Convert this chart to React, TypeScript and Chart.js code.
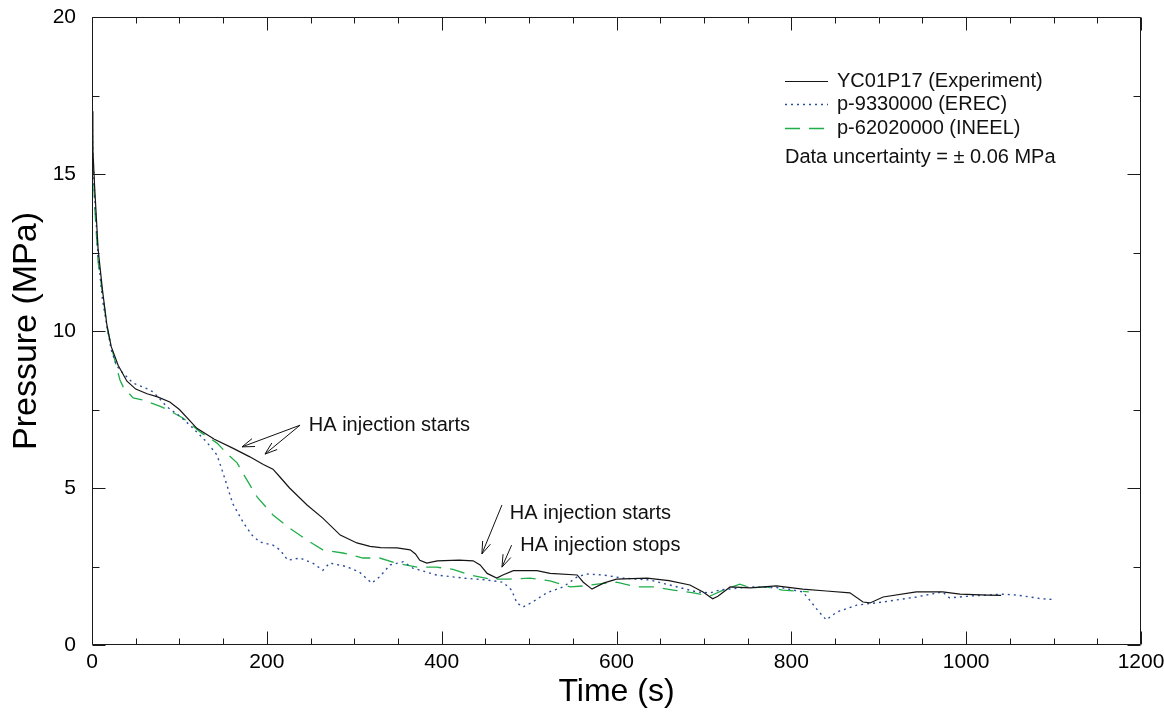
import React, { useEffect, useRef } from 'react';
import { Chart, registerables } from 'chart.js';

Chart.register(...registerables);

// ---------- data ----------
const expTime = [0, 1, 3, 7, 12, 17, 22, 30, 40, 50, 63, 75, 89, 100, 120, 140, 161, 180, 196, 207, 215, 226, 246, 264, 284, 303, 318, 330, 349, 364, 370, 375, 383, 395, 420, 436, 444, 452, 463, 470, 482, 509, 524, 555, 562, 572, 585, 600, 635, 660, 684, 699, 710, 716, 730, 753, 783, 813, 840, 867, 882, 890, 905, 943, 973, 993, 1025, 1040];
const expPressure = [17.0, 15.8, 14.6, 12.6, 11.3, 10.2, 9.5, 8.9, 8.4, 8.15, 8.0, 7.9, 7.74, 7.5, 6.9, 6.55, 6.27, 6.0, 5.75, 5.6, 5.35, 5.0, 4.46, 4.04, 3.5, 3.25, 3.14, 3.1, 3.09, 3.03, 2.9, 2.7, 2.61, 2.68, 2.7, 2.68, 2.55, 2.28, 2.13, 2.23, 2.37, 2.37, 2.28, 2.23, 2.0, 1.78, 1.97, 2.1, 2.13, 2.05, 1.91, 1.69, 1.47, 1.55, 1.85, 1.82, 1.88, 1.78, 1.72, 1.66, 1.37, 1.34, 1.53, 1.69, 1.69, 1.62, 1.59, 1.58];

const erecTime = [0, 1, 3, 7, 12, 18, 22, 28, 34, 47, 60, 70, 86, 100, 112, 131, 143, 150, 161, 173, 183, 192, 207, 215, 224, 238, 253, 264, 272, 291, 306, 320, 329, 341, 356, 367, 394, 425, 452, 470, 480, 486, 493, 504, 520, 539, 555, 566, 585, 607, 638, 661, 692, 707, 718, 753, 790, 813, 821, 830, 840, 852, 875, 905, 943, 973, 981, 1004, 1042, 1058, 1087, 1100];
const erecPressure = [17.0, 15.6, 14.3, 12.4, 11.0, 10.0, 9.4, 8.9, 8.7, 8.34, 8.2, 8.06, 7.58, 7.3, 7.0, 6.47, 6.05, 5.47, 4.5, 3.9, 3.5, 3.28, 3.18, 3.03, 2.7, 2.77, 2.6, 2.38, 2.61, 2.5, 2.32, 1.97, 2.17, 2.55, 2.65, 2.45, 2.23, 2.13, 2.07, 2.0, 1.75, 1.34, 1.21, 1.37, 1.66, 1.85, 2.17, 2.26, 2.23, 2.13, 2.07, 1.91, 1.69, 1.66, 1.75, 1.85, 1.82, 1.69, 1.43, 1.11, 0.8, 1.05, 1.27, 1.37, 1.53, 1.69, 1.5, 1.56, 1.62, 1.59, 1.47, 1.45];

const ineelTime = [0, 1, 3, 7, 13, 18, 23, 32, 36, 47, 58, 78, 86, 104, 124, 143, 158, 166, 173, 189, 207, 226, 246, 264, 287, 310, 329, 349, 372, 394, 413, 432, 455, 478, 501, 524, 547, 562, 578, 600, 623, 642, 665, 688, 707, 722, 741, 753, 772, 790, 806, 820];
const ineelPressure = [17.0, 15.4, 14.0, 12.2, 11.0, 10.0, 9.4, 8.44, 8.2, 7.87, 7.8, 7.6, 7.5, 7.23, 6.78, 6.43, 6.0, 5.8, 5.45, 4.71, 4.14, 3.72, 3.34, 3.03, 2.93, 2.77, 2.77, 2.6, 2.48, 2.48, 2.41, 2.23, 2.1, 2.1, 2.13, 2.04, 1.85, 1.88, 1.94, 2.0, 1.85, 1.85, 1.75, 1.66, 1.56, 1.75, 1.94, 1.82, 1.85, 1.75, 1.72, 1.69];

const seriesLabels = ['YC01P17 (Experiment)', 'p-9330000 (EREC)', 'p-62020000 (INEEL)'];
const uncertaintyNote = 'Data uncertainty = \u00B1 0.06 MPa';

// annotations in data coordinates (time, pressure)
const annotationTexts = ['HA injection starts', 'HA injection starts', 'HA injection stops'];
const annotationAnchors = [[248, 7.0], [478, 4.2], [490, 3.18]];
const annotationArrows = [
  [[238, 7.0], [171.6, 6.31]],
  [[238, 7.0], [197.9, 6.08]],
  [[469, 4.46], [446, 2.9]],
  [[480, 3.18], [469, 2.48]],
];

const FONT = "'Liberation Sans', Arial, Helvetica, sans-serif";

const toXY = (xs: number[], ys: number[]) => xs.map((x, i) => ({ x, y: ys[i] }));

const frameTicksPlugin = {
  id: 'frameTicks',
  afterDatasetsDraw(chart: any) {
    const { ctx, chartArea: a, scales } = chart;
    const xs = scales.x;
    const ys = scales.y;
    ctx.save();
    ctx.strokeStyle = '#1a1a1a';
    ctx.lineWidth = 1;
    const L = Math.round(a.left) + 0.5;
    const R = Math.round(a.right) - 0.5;
    const T = Math.round(a.top) + 0.5;
    const B = Math.round(a.bottom) - 0.5;
    ctx.beginPath();
    ctx.rect(L, T, R - L, B - T);
    ctx.stroke();
    ctx.beginPath();
    for (let v = 0; v <= 1200; v += 50) {
      const px = Math.round(xs.getPixelForValue(v)) + 0.5;
      const len = v % 200 === 0 ? 13 : 6;
      ctx.moveTo(px, B);
      ctx.lineTo(px, B - len);
      ctx.moveTo(px, T);
      ctx.lineTo(px, T + len);
    }
    for (let v = 0; v <= 20; v += 2.5) {
      const py = Math.round(ys.getPixelForValue(v)) + 0.5;
      const len = v % 5 === 0 ? 13 : 7;
      ctx.moveTo(L, py);
      ctx.lineTo(L + len, py);
      ctx.moveTo(R, py);
      ctx.lineTo(R - len, py);
    }
    ctx.stroke();
    ctx.restore();
  },
};

const annotationPlugin = {
  id: 'haNotes',
  afterDatasetsDraw(chart: any) {
    const { ctx, scales } = chart;
    const xs = scales.x;
    const ys = scales.y;
    ctx.save();
    ctx.fillStyle = '#111';
    ctx.font = `20px ${FONT}`;
    ctx.textAlign = 'left';
    ctx.textBaseline = 'middle';
    annotationTexts.forEach((t, i) => {
      const [ax, ay] = annotationAnchors[i];
      ctx.fillText(t, xs.getPixelForValue(ax), ys.getPixelForValue(ay));
    });
    ctx.strokeStyle = '#111';
    ctx.lineWidth = 1;
    annotationArrows.forEach(([from, to]) => {
      const x1 = xs.getPixelForValue(from[0]);
      const y1 = ys.getPixelForValue(from[1]);
      const x2 = xs.getPixelForValue(to[0]);
      const y2 = ys.getPixelForValue(to[1]);
      const ang = Math.atan2(y1 - y2, x1 - x2);
      const head = 13;
      const spread = 0.33;
      ctx.beginPath();
      ctx.moveTo(x1, y1);
      ctx.lineTo(x2, y2);
      ctx.moveTo(x2 + head * Math.cos(ang + spread), y2 + head * Math.sin(ang + spread));
      ctx.lineTo(x2, y2);
      ctx.lineTo(x2 + head * Math.cos(ang - spread), y2 + head * Math.sin(ang - spread));
      ctx.stroke();
    });
    ctx.restore();
  },
};

const legendPlugin = {
  id: 'boxLegend',
  afterDraw(chart: any) {
    const { ctx } = chart;
    const rows = [81, 104, 128];
    const x0 = 785;
    const x1 = 828;
    ctx.save();
    chart.data.datasets.forEach((ds: any, i: number) => {
      ctx.beginPath();
      ctx.strokeStyle = ds.borderColor;
      ctx.lineWidth = ds.borderWidth;
      ctx.setLineDash(ds.borderDash || []);
      ctx.moveTo(x0, rows[i] + 0.5);
      ctx.lineTo(x1, rows[i] + 0.5);
      ctx.stroke();
    });
    ctx.setLineDash([]);
    ctx.fillStyle = '#111';
    ctx.font = `20px ${FONT}`;
    ctx.textAlign = 'left';
    ctx.textBaseline = 'middle';
    seriesLabels.forEach((l, i) => ctx.fillText(l, 837, rows[i]));
    ctx.fillText(uncertaintyNote, 785, 157);
    ctx.restore();
  },
};

export default function App() {
  const ref = useRef<HTMLCanvasElement | null>(null);
  useEffect(() => {
    if (!ref.current) return;
    const chart = new Chart(ref.current, {
      type: 'line',
      data: {
        datasets: [
          {
            label: seriesLabels[0],
            data: toXY(expTime, expPressure),
            borderColor: '#151515',
            borderWidth: 1.2,
            pointRadius: 0,
            tension: 0,
          },
          {
            label: seriesLabels[1],
            data: toXY(erecTime, erecPressure),
            borderColor: '#2a4c9e',
            borderWidth: 1.4,
            borderDash: [2, 4],
            pointRadius: 0,
            tension: 0,
          },
          {
            label: seriesLabels[2],
            data: toXY(ineelTime, ineelPressure),
            borderColor: '#1fae4a',
            borderWidth: 1.3,
            borderDash: [15, 9],
            pointRadius: 0,
            tension: 0,
          },
        ],
      },
      options: {
        responsive: false,
        animation: false,
        layout: { padding: { top: 17, right: 23, left: 0, bottom: 0 } },
        plugins: { legend: { display: false }, tooltip: { enabled: false } },
        scales: {
          x: {
            type: 'linear',
            min: 0,
            max: 1200,
            grid: { display: false, drawTicks: false },
            border: { display: false },
            ticks: {
              stepSize: 200,
              color: '#000',
              font: { family: FONT, size: 21 },
              padding: 5,
              maxRotation: 0,
              callback: (v: any) => String(v),
            },
            title: { display: true, text: 'Time (s)', color: '#000', font: { family: FONT, size: 32 }, padding: { top: 4, bottom: 6 } },
            afterFit: (s: any) => {
              s.height = 72;
              s.paddingLeft = 0;
              s.paddingRight = 0;
            },
          },
          y: {
            type: 'linear',
            min: 0,
            max: 20,
            grid: { display: false, drawTicks: false },
            border: { display: false },
            ticks: { stepSize: 5, color: '#000', font: { family: FONT, size: 21 }, padding: 16, callback: (v: any) => String(v) },
            title: { display: true, text: 'Pressure (MPa)', color: '#000', font: { family: FONT, size: 34 }, padding: { top: 6, bottom: 4 } },
            afterFit: (s: any) => {
              s.width = 92;
              s.paddingTop = 0;
              s.paddingBottom = 0;
            },
          },
        },
      },
      plugins: [frameTicksPlugin, annotationPlugin, legendPlugin],
    });
    return () => chart.destroy();
  }, []);
  return (
    <canvas
      ref={ref}
      width={1164}
      height={717}
      style={{ position: 'absolute', left: 0, top: 0, width: 1164, height: 717, background: '#fff' }}
    />
  );
}
